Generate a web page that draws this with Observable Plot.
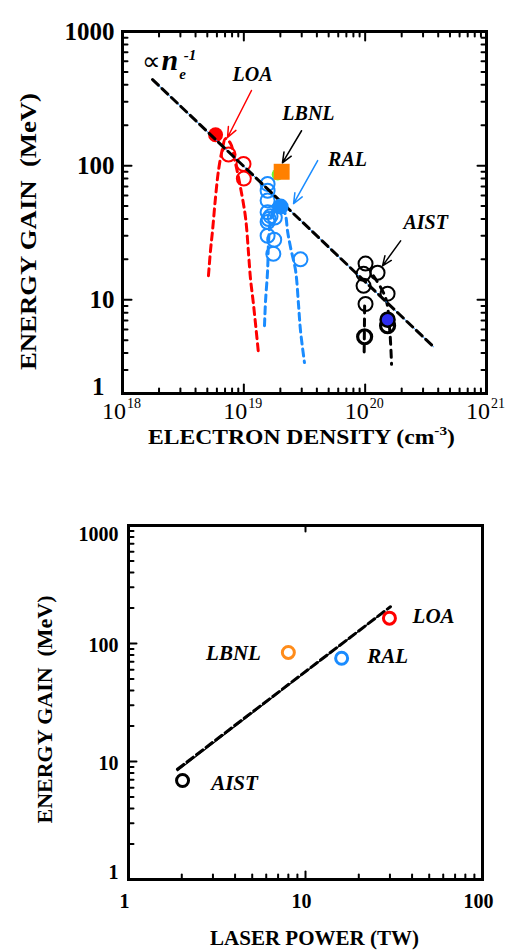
<!DOCTYPE html>
<html><head><meta charset="utf-8">
<script src="https://cdn.jsdelivr.net/npm/d3@7"></script>
<script src="https://cdn.jsdelivr.net/npm/@observablehq/plot@0.6"></script>
<style>
html,body{margin:0;padding:0;background:#fff;}
#chart svg{display:block;}
</style></head><body><div id="chart"></div>
<script>
const FONT = "Liberation Serif";
const RED = "#ff0000", BLUE = "#1a8cff", ORANGE = "#ff8000", GREEN = "#66ff33", DKBLUE = "#2e2ef0";

// ---------- Top chart: energy gain vs electron density ----------
const densityTicks = [1e18, 1e19, 1e20, 1e21];
const densityDecades = [1e18, 1e19, 1e20];
const gainTicksTop = [10, 100, 1000];
const gainDecadesTop = [1, 10, 100];

const loaFilled = [[5.85e18, 170]];
const loaOpen = [[7.48e18, 121], [9.94e18, 103], [1.0e19, 80]];
const loaCurve = [[5.11e18, 15.1], [5.31e18, 23.2], [5.52e18, 32.7], [5.84e18, 57.7], [6.18e18, 91.8], [6.67e18, 134], [7.06e18, 159], [7.77e18, 146], [8.55e18, 103.5], [9.39e18, 68.5], [1.033e19, 40.9], [1.094e19, 22], [1.135e19, 14.3], [1.20e19, 9.3], [1.32e19, 4.0]];

const lbnlSquare = [[2.05e19, 90]];
const lbnlGreen = [[1.9e19, 86]];

const ralFilled = [[2.01e19, 49.5]];
const ralOpen = [[1.57e19, 73], [1.57e19, 65], [1.57e19, 55], [1.57e19, 45], [1.66e19, 42], [1.6e19, 40], [1.57e19, 38], [1.8e19, 41], [1.57e19, 30], [1.78e19, 28], [1.75e19, 22], [2.93e19, 20]];
const ralCurve = [[1.48e19, 6.4], [1.51e19, 9.8], [1.57e19, 16.5], [1.60e19, 27.5], [1.66e19, 38.9], [1.79e19, 48.6], [2.01e19, 53], [2.21e19, 42.4], [2.29e19, 32.7], [2.43e19, 24.4], [2.67e19, 16.5], [2.82e19, 9.3], [2.93e19, 5.9], [3.16e19, 3.4]];

const aistOpen = [[1.007e20, 18.6], [1.265e20, 15.9], [9.7e19, 15.6], [9.7e19, 12.7], [1.53e20, 11.1], [1.007e20, 9.3]];
const aistBold = [[9.9e19, 5.3], [1.53e20, 6.4]];
const aistFilled = [[1.53e20, 7.1]];
const aistCurveLeft = [[9.9e19, 9.0], [9.8e19, 3.7]];
const aistCurveRight = [[1.17e20, 15.1], [1.47e20, 10.4], [1.59e20, 6.1], [1.65e20, 3.3]];

const scalingLine = [[1.77e18, 438], [3.66e20, 4.46]];

const arrowsTop = [
  {x1: 1.156e19, y1: 363, x2: 7.34e18, y2: 162, color: RED},
  {x1: 2.99e19, y1: 182, x2: 2.08e19, y2: 105, color: "black"},
  {x1: 4.06e19, y1: 109, x2: 2.57e19, y2: 52, color: BLUE},
  {x1: 1.96e20, y1: 27.5, x2: 1.39e20, y2: 17.9, color: "black"}
];
const labelsTop = [
  {x: 1.18e19, y: 477, text: "LOA"},
  {x: 3.41e19, y: 244, text: "LBNL"},
  {x: 7.16e19, y: 111, text: "RAL"},
  {x: 3.15e20, y: 37.6, text: "AIST"}
];
const formulaPos = [{x: 1.46e18, y: 512, text: "∝n_e^-1"}];

// ---------- Bottom chart: energy gain vs laser power ----------
const powerTicks = [1, 10, 100];
const powerDecades = [1, 10];
const gainTicksBottom = [1, 10, 100, 1000];
const gainDecadesBottom = [1, 10, 100];

const powerPoints = [
  {p: 2.02, g: 6.9, color: "black"},
  {p: 8.0, g: 84, color: "#ff8c1a"},
  {p: 16.0, g: 75, color: BLUE},
  {p: 29.8, g: 164, color: RED}
];
const fitDashed = [[1.89, 8.6], [30.2, 205]];
const fitSolid = [[1.89, 8.35], [27.2, 181]];
const labelsBottom = [
  {x: 3.92, y: 83, text: "LBNL"},
  {x: 29.1, y: 78, text: "RAL"},
  {x: 52.9, y: 170, text: "LOA"},
  {x: 3.97, y: 6.6, text: "AIST"}
];

// ---------- helpers ----------
const minors = (decades) => decades.flatMap(d => [2,3,4,5,6,7,8,9].map(k => k * d));
const tickShape = {draw(ctx, l) { ctx.moveTo(0, 0); ctx.lineTo(0, -l); }};
const rot = {bottom: 0, top: 180, left: 90, right: 270};
function ticksX(values, len, side, sw = 2) {
  return Plot.vector(values, {x: d => d, frameAnchor: side, rotate: rot[side], length: len, anchor: "start", shape: tickShape, stroke: "black", strokeWidth: sw});
}
function ticksY(values, len, side, sw = 2) {
  return Plot.vector(values, {y: d => d, frameAnchor: side, rotate: rot[side], length: len, anchor: "start", shape: tickShape, stroke: "black", strokeWidth: sw});
}
const P = d => d[0], Q = d => d[1];

const plotTop = Plot.plot({
  width: 505, height: 470,
  marginLeft: 122, marginRight: 19, marginTop: 31, marginBottom: 77,
  x: {type: "log", domain: [1e18, 1e21], axis: null},
  y: {type: "log", domain: [2, 1000], axis: null},
  color: {type: "identity"},
  style: {fontFamily: FONT, background: "white", overflow: "visible"},
  marks: [
    Plot.line(loaCurve, {x: P, y: Q, stroke: RED, strokeWidth: 3, strokeDasharray: "7,5", curve: "catmull-rom"}),
    Plot.line(ralCurve, {x: P, y: Q, stroke: BLUE, strokeWidth: 3, strokeDasharray: "7,5", curve: "catmull-rom"}),
    Plot.line(aistCurveLeft, {x: P, y: Q, stroke: "black", strokeWidth: 3, strokeDasharray: "7,6"}),
    Plot.line(aistCurveRight, {x: P, y: Q, stroke: "black", strokeWidth: 3, strokeDasharray: "7,6", curve: "catmull-rom"}),
    Plot.dot(lbnlGreen, {x: P, y: Q, r: 6, fill: GREEN}),
    Plot.dot(loaFilled, {x: P, y: Q, r: 7.5, fill: RED}),
    Plot.dot(loaOpen, {x: P, y: Q, r: 7, stroke: RED, strokeWidth: 2}),
    Plot.dot(ralOpen, {x: P, y: Q, r: 7, stroke: BLUE, strokeWidth: 2}),
    Plot.dot(aistOpen, {x: P, y: Q, r: 7, stroke: "black", strokeWidth: 2}),
    Plot.dot(aistBold, {x: P, y: Q, r: 7, stroke: "black", strokeWidth: 3.2}),
    Plot.line(scalingLine, {x: P, y: Q, stroke: BLUE, strokeWidth: 1}),
    Plot.line(scalingLine, {x: P, y: Q, stroke: "black", strokeWidth: 3, strokeDasharray: "8,5"}),
    Plot.dot(ralFilled, {x: P, y: Q, r: 8, fill: BLUE}),
    Plot.dot(lbnlSquare, {x: P, y: Q, r: 9, symbol: "square", fill: ORANGE}),
    Plot.dot(aistFilled, {x: P, y: Q, r: 7, fill: DKBLUE, stroke: "black", strokeWidth: 2.5}),
    Plot.arrow(arrowsTop, {x1: "x1", y1: "y1", x2: "x2", y2: "y2", stroke: "color", strokeWidth: 1.5, headLength: 11, headAngle: 45}),
    Plot.text(labelsTop, {x: "x", y: "y", text: "text", fontSize: 20, fontWeight: "bold", fontStyle: "italic", fontFamily: FONT}),
    Plot.text(formulaPos, {x: "x", y: "y", text: "text", textAnchor: "start", lineAnchor: "bottom", fontSize: 24, fontFamily: FONT}),
    // axes
    Plot.frame({stroke: "black", strokeWidth: 3}),
    ticksX(densityTicks, 9, "bottom"), ticksX(densityTicks, 9, "top"),
    ticksX(minors(densityDecades), 5, "bottom"), ticksX(minors(densityDecades), 5, "top"),
    ticksY(gainTicksTop, 9, "left"), ticksY(gainTicksTop, 9, "right"),
    ticksY(minors(gainDecadesTop).filter(v => v >= 2 && v <= 1000), 5, "left"),
    ticksY(minors(gainDecadesTop).filter(v => v >= 2 && v <= 1000), 5, "right"),
    Plot.text(gainTicksTop, {y: d => d, text: d => String(d), frameAnchor: "left", textAnchor: "end", lineAnchor: "middle", dx: -8, fontSize: 25, fontWeight: "bold", fontFamily: FONT}),
    Plot.text(["1"], {text: d => d, frameAnchor: "bottom-left", textAnchor: "end", lineAnchor: "middle", dx: -18, dy: -7, fontSize: 25, fontWeight: "bold", fontFamily: FONT}),
    Plot.text(densityTicks, {x: d => d, text: d => "10^" + Math.round(Math.log10(d)), frameAnchor: "bottom", textAnchor: "middle", lineAnchor: "bottom", dx: -1, dy: 25, fontSize: 24, fontFamily: FONT}),
    Plot.text(["ELECTRON DENSITY (cm-3)"], {text: d => d, frameAnchor: "bottom", textAnchor: "middle", lineAnchor: "bottom", dx: -3, dy: 50, fontSize: 20, fontWeight: "bold", fontFamily: FONT}),
    Plot.text(["ENERGY GAIN  (MeV)"], {text: d => d, frameAnchor: "left", textAnchor: "middle", lineAnchor: "middle", rotate: -90, dx: -94, dy: 19, fontSize: 24, fontWeight: "bold", fontFamily: FONT})
  ]
});

const plotBottom = Plot.plot({
  width: 505, height: 481,
  marginLeft: 128, marginRight: 23, marginTop: 55, marginBottom: 72,
  x: {type: "log", domain: [1, 100], axis: null},
  y: {type: "log", domain: [1, 1000], axis: null},
  color: {type: "identity"},
  style: {fontFamily: FONT, background: "white", overflow: "visible"},
  marks: [
    Plot.line(fitSolid, {x: P, y: Q, stroke: "black", strokeWidth: 1.2}),
    Plot.line(fitDashed, {x: P, y: Q, stroke: "black", strokeWidth: 3, strokeDasharray: "8,4"}),
    Plot.dot(powerPoints, {x: "p", y: "g", r: 6, stroke: "color", strokeWidth: 3}),
    Plot.text(labelsBottom, {x: "x", y: "y", text: "text", fontSize: 21, fontWeight: "bold", fontStyle: "italic", fontFamily: FONT}),
    Plot.frame({stroke: "black", strokeWidth: 3}),
    ticksX([10], 8, "bottom"), ticksX([10], 6, "top"),
    ticksX(minors(powerDecades), 5, "bottom"),
    ticksY(gainTicksBottom, 8, "left"),
    ticksY(minors(gainDecadesBottom), 5, "left"),
    Plot.text([10, 100], {y: d => d, text: d => String(d), frameAnchor: "left", textAnchor: "end", lineAnchor: "middle", dx: -10, dy: 2, fontSize: 20, fontWeight: "bold", fontFamily: FONT}),
    Plot.text([1000], {y: d => d, text: d => String(d), frameAnchor: "left", textAnchor: "end", lineAnchor: "middle", dx: -10, dy: 9, fontSize: 20, fontWeight: "bold", fontFamily: FONT}),
    Plot.text([1], {y: d => d, text: d => String(d), frameAnchor: "left", textAnchor: "end", lineAnchor: "middle", dx: -10, dy: -7, fontSize: 20, fontWeight: "bold", fontFamily: FONT}),
    Plot.text(powerTicks, {x: d => d, text: d => String(d), frameAnchor: "bottom", textAnchor: "middle", lineAnchor: "middle", dx: -4, dy: 22, fontSize: 20, fontWeight: "bold", fontFamily: FONT}),
    Plot.text(["LASER POWER (TW)"], {text: d => d, frameAnchor: "bottom", textAnchor: "middle", lineAnchor: "middle", dx: 9, dy: 59, fontSize: 21, fontWeight: "bold", fontFamily: FONT}),
    Plot.text(["ENERGY GAIN  (MeV)"], {text: d => d, frameAnchor: "left", textAnchor: "middle", lineAnchor: "middle", rotate: -90, dx: -83, dy: 7, fontSize: 21, fontWeight: "bold", fontFamily: FONT})
  ]
});

// ---------- rich text (superscripts / subscripts, fitted widths) ----------
function enrich(svg, yLabelLength) {
  d3.select(svg).selectAll("text").each(function() {
    const t = this.textContent;
    const s = d3.select(this);
    if (/^10\^\d+$/.test(t)) {
      s.text("");
      s.append("tspan").text("10");
      s.append("tspan").attr("font-size", 14).attr("dy", -11).attr("dx", 1).text(t.slice(3));
    } else if (t === "ELECTRON DENSITY (cm-3)") {
      s.text("");
      s.append("tspan").text("ELECTRON DENSITY (cm");
      s.append("tspan").attr("font-size", 13).attr("dy", -9).text("-3");
      s.append("tspan").attr("dy", 9).text(")");
      s.attr("textLength", 307).attr("lengthAdjust", "spacingAndGlyphs");
    } else if (t === "ENERGY GAIN  (MeV)") {
      s.attr("textLength", yLabelLength).attr("lengthAdjust", "spacingAndGlyphs").style("white-space", "pre");
    } else if (t === "∝n_e^-1") {
      s.text("");
      s.append("tspan").attr("font-size", 26).text("∝");
      s.append("tspan").attr("font-size", 30).attr("font-weight", "bold").attr("font-style", "italic").text("n");
      s.append("tspan").attr("font-size", 15).attr("font-weight", "bold").attr("font-style", "italic").attr("dy", 9).attr("dx", 1).text("e");
      s.append("tspan").attr("font-size", 15).attr("font-weight", "bold").attr("font-style", "italic").attr("dy", -19).attr("dx", -2).text("-1");
    }
  });
}
enrich(plotTop, 277);
enrich(plotBottom, 228);
document.getElementById("chart").append(plotTop, plotBottom);
</script>
</body></html>
